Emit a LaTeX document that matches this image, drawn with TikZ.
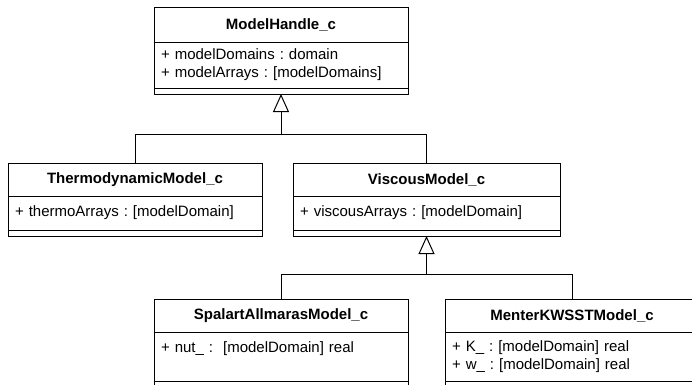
\documentclass[tikz,border=0pt]{standalone}
\usepackage{fontspec}
\setmainfont{Liberation Sans}
\usetikzlibrary{positioning,arrows.meta}

\begin{document}
\frenchspacing
\begin{tikzpicture}[x=1pt,y=-1pt,
  box/.style={draw=black,line width=1pt,rectangle,inner sep=0pt,outer sep=0pt},
  classname/.style={box,anchor=north,minimum height=33pt,font=\fontsize{15}{18}\selectfont\bfseries},
  attrs/.style={box,align=left,inner xsep=7pt,inner ysep=0pt,font=\fontsize{15}{18}\selectfont},
  ops/.style={box,minimum height=6pt},
  link/.style={draw=black,line width=1pt},
  inherit/.style={link,-{Triangle[open,length=18pt,width=16pt]}}]
\useasboundingbox (0,0) rectangle (692,384);
\clip (0,0) rectangle (692,384);

\node[classname,minimum width=254pt,minimum height=35pt] (handle) at (281,7) {ModelHandle\_c};
\node[attrs,text width=240pt,minimum height=46pt,below=0pt of handle] (handleattr) {+ modelDomains : domain\\+ modelArrays : [modelDomains]};
\node[ops,minimum width=254pt,below=0pt of handleattr] (handleops) {};

\node[classname,minimum width=254pt] (thermo) at (135,163) {ThermodynamicModel\_c};
\node[attrs,text width=240pt,minimum height=34pt,below=0pt of thermo] (thermoattr) {+ thermoArrays : [modelDomain]};
\node[ops,minimum width=254pt,below=0pt of thermoattr] (thermoops) {};

\node[classname,minimum width=267pt] (viscous) at (426.5,163) {ViscousModel\_c};
\node[attrs,text width=253pt,minimum height=34pt,below=0pt of viscous] (viscousattr) {+ viscousArrays : [modelDomain]};
\node[ops,minimum width=267pt,below=0pt of viscousattr] (viscousops) {};

\node[classname,minimum width=254pt] (spalart) at (281,299) {SpalartAllmarasModel\_c};
\node[attrs,text width=240pt,minimum height=49pt,below=0pt of spalart] (spalartattr) {+ nut\_ :~ [modelDomain] real\\\mbox{}};
\node[ops,minimum width=254pt,minimum height=30pt,below=0pt of spalartattr] (spalartops) {};

\node[classname,minimum width=254pt] (menter) at (572,299) {MenterKWSSTModel\_c};
\node[attrs,text width=240pt,minimum height=49pt,below=0pt of menter] (menterattr) {+ K\_ : [modelDomain] real\\+ w\_ : [modelDomain] real};
\node[ops,minimum width=254pt,minimum height=30pt,below=0pt of menterattr] (menterops) {};

\coordinate (join1) at (281,134);
\coordinate (join2) at (426.5,274);
\draw[link] (thermo.north) |- (join1);
\draw[link] (viscous.north) |- (join1);
\draw[inherit] (join1) -- (handleops.south);
\draw[link] (spalart.north) |- (join2);
\draw[link] (menter.north) |- (join2);
\draw[inherit] (join2) -- (viscousops.south);
\end{tikzpicture}
\end{document}
